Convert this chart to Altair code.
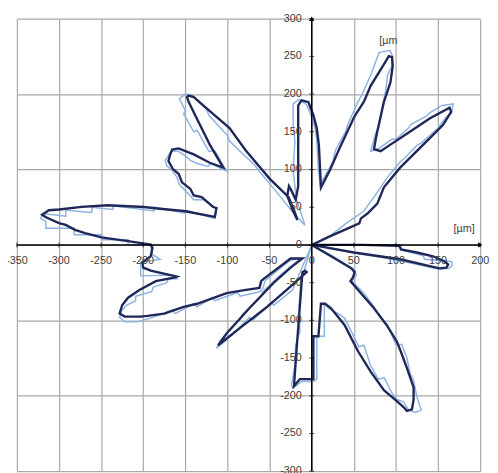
import altair as alt
import pandas as pd

X_TICKS = list(range(-350, 201, 50))
Y_TICKS = list(range(-300, 301, 50))
UNIT_TOP = "[µm"
UNIT_RIGHT = "[µm]"

# ---- measured contour (dark) ----
dark_east = [(0, 0), (60, 0), (104, -1), (106, -6), (125, -10), (144, -15), (158, -22), (162, -26),
             (160, -30), (152, -31), (144, -29), (105, -19), (50, -10), (15, -3), (0, 0)]
dark_southeast = [(20, -13), (47, -31), (51, -36), (49, -43), (46, -48), (60, -66), (74, -84), (90, -108),
                  (101, -128), (105, -139), (113, -163), (121, -189), (121, -205), (119, -218), (113, -220),
                  (109, -215), (100, -206), (86, -193), (70, -168), (55, -141), (39, -106), (23, -84),
                  (16, -78), (11, -78), (8, -121), (2, -121), (2, -178)]
dark_south = [(-14, -178), (-21, -187), (-17.5, -132), (-13.7, -76), (-11, -36), (-8, -34), (-6, -36)]
dark_southwest = [(-30, -60), (-55, -84), (-85, -110), (-111, -133), (-100, -116), (-74, -84), (-45, -50),
                  (-25, -30), (-11, -18), (-25, -18)]
dark_wsw = [(-57, -45), (-60, -48), (-62, -57), (-80, -60), (-101, -64), (-136, -78), (-152, -82), (-175, -91),
            (-195, -94), (-203, -95), (-222, -95), (-228, -91), (-225, -80), (-218, -70), (-205, -60),
            (-185, -48), (-162, -43), (-160, -42), (-191, -34), (-200, -30), (-201, -23), (-191, -15),
            (-189, -4), (-191, 0.4)]
dark_west = [(-218, 5), (-249.5, 10), (-269, 15.6), (-281, 20), (-292, 26.5), (-300, 29), (-316, 37),
             (-320, 40), (-312, 46), (-300, 47), (-273, 50.4), (-242, 52.6), (-218, 51.3), (-199, 50.3),
             (-183, 48.3), (-152, 45), (-115, 37.3), (-113, 49)]
dark_wnw = [(-117, 50.3), (-130.6, 63.4), (-140, 65.6), (-144, 74.3), (-154, 83), (-157.8, 94), (-165, 101),
            (-170, 111.3), (-168, 120), (-165.6, 126.5), (-158, 128), (-140, 120), (-121, 109), (-105, 102.5)]
dark_northwest = [(-121, 133), (-136.4, 167.7), (-146, 189.5), (-148, 196), (-146, 198), (-140, 196),
                  (-124.7, 181), (-97.5, 155), (-78, 125), (-50, 88), (-27.4, 63.4), (-19.5, 41.7),
                  (-17, 33), (-22, 45), (-29, 65), (-27, 78), (-24, 72), (-19, 60), (-16, 78)]
dark_north = [(-16, 80), (-16, 150), (-16, 185), (-12, 191.7), (-6, 190), (-4, 189.5), (2, 172), (6, 155),
              (8.5, 133), (10, 100), (11, 76)]
dark_northeast = [(22, 100), (35, 133), (50.6, 170), (62, 190), (70, 211), (85.7, 239.5), (91.5, 250.4),
                  (95.4, 249), (96.2, 237.4), (93.5, 215.6), (85.7, 189.5), (77.9, 150.4), (76, 140),
                  (74, 127), (81.8, 124.3), (93.5, 133), (117, 150.4), (140, 167.7), (163.7, 182),
                  (165.5, 176.5), (155.8, 159), (132.5, 133), (105, 102.5), (85.7, 76.4), (77.9, 54.8),
                  (66.2, 41.7), (58.5, 35.2), (56.5, 28.7), (39, 20), (19.5, 10.4), (0, 0)]

# ---- nominal stepped contour (light) ----
light_east = [(0, 0), (105, 0), (107, -7), (132, -14), (134, -19), (155, -21), (166, -22), (167, -27),
              (163, -31), (150, -32), (130, -27), (105, -21), (60, -12), (20, -4), (0, 0)]
light_southeast = [(25, -15), (50, -32), (53, -40), (48, -48), (62, -64), (74, -82), (77, -89), (90, -106),
                   (100, -132), (107, -132), (113, -150), (117, -171), (121, -180), (125, -202), (130, -219),
                   (123, -222), (115, -219), (109, -208), (101, -205), (95, -196), (86, -176), (79, -178),
                   (70, -160), (62, -133), (56, -135), (45, -110), (39, -97), (30, -90), (20, -84), (15, -78),
                   (15, -121), (6, -121), (6, -178), (2, -181)]
light_south = [(-12, -181), (-22, -190), (-24, -186), (-20, -160), (-19, -133), (-14, -115), (-15, -82),
               (-13, -50), (0, 0), (-23, -60)]
light_southwest = [(-45, -80), (-48, -76), (-70, -100), (-74, -96), (-95, -120), (-113, -137), (-108, -126),
                   (-85, -98), (-82, -92), (-60, -68), (-58, -62), (-35, -38), (-20, -24), (-12, -18), (-25, -20)]
light_wsw = [(-40, -33), (-55, -47), (-58, -58), (-62, -62), (-85, -68), (-88, -63), (-115, -74), (-118, -70),
             (-136, -82), (-140, -78), (-162, -91), (-165, -86), (-191, -97), (-207, -102), (-222, -102),
             (-228, -96), (-226, -88), (-220, -80), (-209, -74), (-209, -68), (-190, -62), (-188, -56),
             (-172, -50), (-170, -45), (-160, -45), (-165, -40), (-203, -41), (-203, -23), (-180, -19),
             (-190, -12), (-191, 0.4)]
light_west = [(-218, 0.4), (-218, 7), (-249.5, 7), (-249.5, 13.4), (-282, 13.4), (-282, 22), (-315.6, 22),
              (-315.6, 30.8), (-321.5, 35), (-319.6, 41.7), (-292, 38), (-292, 46), (-261, 43), (-261, 50),
              (-236, 47), (-236, 52), (-187, 45), (-187, 50), (-150, 42), (-148, 46), (-115, 35), (-113, 48)]
light_wnw = [(-128, 60), (-140, 60), (-144, 65), (-150, 72), (-157, 80), (-160, 90), (-165, 98), (-172, 105),
             (-174, 112), (-166, 125), (-158, 124), (-150, 118), (-144, 112), (-136, 108), (-123, 104),
             (-120, 108), (-101, 98)]
light_northwest = [(-115, 125), (-122, 124), (-136, 152), (-140, 150), (-152, 174), (-150, 178), (-157, 194),
                   (-150, 200), (-142, 199), (-125, 180), (-122, 172), (-100, 145), (-97, 137), (-67, 105),
                   (-64, 100), (-43, 72), (-20, 40), (-8, 26)]
light_north = [(-18, 60), (-20, 78), (-22, 100), (-20, 137), (-22, 160), (-22, 187), (-15, 193), (-6, 186),
               (0, 170), (4, 155), (6, 140), (8, 100), (10, 80)]
light_northeast = [(25, 110), (28, 125), (40, 150), (43, 160), (55, 190), (60, 200), (70, 225), (75, 240),
                   (80, 255), (93, 258), (96, 250), (95, 237), (90, 225), (88, 205), (85, 190), (82, 170),
                   (79, 155), (76, 148), (70, 124), (80, 128), (95, 140), (100, 140), (115, 155), (118, 160),
                   (135, 170), (140, 175), (155, 185), (168, 187), (166, 175), (160, 170), (150, 155),
                   (145, 150), (130, 135), (125, 132), (110, 115), (105, 110), (90, 90), (87, 85), (75, 65),
                   (62, 45), (40, 28), (20, 10), (0, 0)]

dark = (dark_east + dark_southeast + dark_south + dark_southwest + dark_wsw + dark_west + dark_wnw
        + dark_northwest + dark_north + dark_northeast)
light = (light_east + light_southeast + light_south + light_southwest + light_wsw + light_west + light_wnw
         + light_northwest + light_north + light_northeast)


def frame(pts):
    return pd.DataFrame({"x": [p[0] for p in pts], "y": [p[1] for p in pts], "i": list(range(len(pts)))})


xs = alt.Scale(domain=[X_TICKS[0], X_TICKS[-1]], nice=False, zero=False)
ys = alt.Scale(domain=[Y_TICKS[0], Y_TICKS[-1]], nice=False, zero=False)
GRID = "#a8a8a8"
ax_x = alt.Axis(values=X_TICKS, grid=True, labels=False, ticks=False, domain=False, title=None,
                gridColor=GRID, gridWidth=1.2)
ax_y = alt.Axis(values=Y_TICKS, grid=True, labels=False, ticks=False, domain=False, title=None,
                gridColor=GRID, gridWidth=1.2)

light_line = alt.Chart(frame(light)).mark_line(color="#8db3e2", strokeWidth=1.5).encode(
    x=alt.X("x:Q", scale=xs, axis=ax_x), y=alt.Y("y:Q", scale=ys, axis=ax_y), order="i:Q")
dark_line = alt.Chart(frame(dark)).mark_line(color="#1f2858", strokeWidth=2.4).encode(
    x=alt.X("x:Q", scale=xs), y=alt.Y("y:Q", scale=ys), order="i:Q")

x_axis_line = alt.Chart(pd.DataFrame({"a": [X_TICKS[0]], "b": [X_TICKS[-1]], "c": [0]})).mark_rule(
    color="black", strokeWidth=1.4).encode(x=alt.X("a:Q", scale=xs), x2="b:Q", y=alt.Y("c:Q", scale=ys))
y_axis_line = alt.Chart(pd.DataFrame({"a": [Y_TICKS[0]], "b": [Y_TICKS[-1]], "c": [0]})).mark_rule(
    color="black", strokeWidth=1.4).encode(y=alt.Y("a:Q", scale=ys), y2="b:Q", x=alt.X("c:Q", scale=xs))

xt = pd.DataFrame({"v": X_TICKS, "z": [0] * len(X_TICKS), "t": [str(v) for v in X_TICKS]})
yt = pd.DataFrame({"v": Y_TICKS, "z": [0] * len(Y_TICKS), "t": [str(v) for v in Y_TICKS]})

x_ticks = alt.Chart(xt).mark_tick(orient="vertical", size=5, thickness=1, color="black").encode(
    x=alt.X("v:Q", scale=xs), y=alt.Y("z:Q", scale=ys))
y_ticks = alt.Chart(yt).mark_tick(orient="horizontal", size=5, thickness=1, color="black").encode(
    y=alt.Y("v:Q", scale=ys), x=alt.X("z:Q", scale=xs))

FONT = "Liberation Sans"
x_labels = alt.Chart(xt).mark_text(font=FONT, fontSize=11, color="#404040", dy=16, baseline="middle",
                                   align="center").encode(
    x=alt.X("v:Q", scale=xs), y=alt.Y("z:Q", scale=ys), text="t:N")
y_labels = alt.Chart(yt).mark_text(font=FONT, fontSize=11, color="#404040", dx=-10, baseline="middle",
                                   align="right").encode(
    y=alt.Y("v:Q", scale=ys), x=alt.X("z:Q", scale=xs), text="t:N")

arrow_up = alt.Chart(pd.DataFrame({"x": [0], "y": [Y_TICKS[-1]]})).mark_point(
    shape="triangle-up", filled=True, size=28, color="black", opacity=1).encode(
    x=alt.X("x:Q", scale=xs), y=alt.Y("y:Q", scale=ys))
arrow_right = alt.Chart(pd.DataFrame({"x": [X_TICKS[-1]], "y": [0]})).mark_point(
    shape="triangle-right", filled=True, size=28, color="black", opacity=1).encode(
    x=alt.X("x:Q", scale=xs), y=alt.Y("y:Q", scale=ys))

units = alt.Chart(pd.DataFrame({"x": [91, 181], "y": [271, 21], "t": [UNIT_TOP, UNIT_RIGHT]})).mark_text(
    font=FONT, fontSize=11, color="#404040", baseline="middle", align="center").encode(
    x=alt.X("x:Q", scale=xs), y=alt.Y("y:Q", scale=ys), text="t:N")

chart = alt.layer(light_line, dark_line, x_axis_line, y_axis_line, x_ticks, y_ticks, x_labels, y_labels,
                  arrow_up, arrow_right, units).properties(
    width=471, height=460, autosize=alt.AutoSizeParams(type="none"),
    padding={"left": 9, "top": 7, "right": 10, "bottom": 0},
    background="white",
).configure_view(stroke=None)

chart.save("out.html", embed_options={"renderer": "svg", "actions": False})
